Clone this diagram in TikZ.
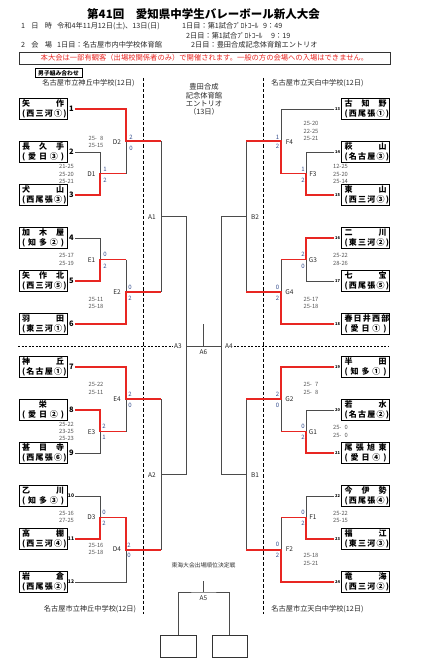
\documentclass[tikz,border=0pt]{standalone}
\usepackage{fontspec}
\setmainfont{Noto Sans CJK JP}
\usetikzlibrary{shadows}
\definecolor{winred}{RGB}{232,38,34}
\definecolor{linegray}{RGB}{75,75,75}
\definecolor{scoreblue}{RGB}{50,75,140}
\definecolor{setgray}{RGB}{85,85,85}
\newcommand{\teamtxt}[2]{\makebox[42pt][s]{#1}\\\makebox[42pt][s]{#2}}
\begin{document}
\begin{tikzpicture}[x=1pt,y=-1pt,
  team/.style={draw, line width=0.9pt, fill=white, minimum width=48pt, minimum height=21pt, inner sep=0pt, align=center,
    font=\fontsize{8}{9.5}\selectfont\bfseries,
    drop shadow={shadow xshift=0.9pt, shadow yshift=-0.9pt, fill=black!45, opacity=1}},
  num/.style={font=\fontsize{7.5}{8}\selectfont\bfseries, inner sep=1pt},
  numsm/.style={font=\fontsize{5}{6}\selectfont\bfseries, inner sep=1pt},
  numr/.style={font=\fontsize{4}{5}\selectfont\bfseries, inner sep=0.8pt},
  sets/.style={font=\fontsize{5.8}{7.4}\selectfont, text=setgray, align=center, inner sep=0pt},
  mlab/.style={font=\fontsize{6.5}{7}\selectfont, text=black!85, inner sep=1pt},
  pts/.style={font=\fontsize{6}{7}\selectfont, text=scoreblue, inner sep=0pt},
  win/.style={draw=winred, line width=1.7pt},
  lose/.style={draw=linegray, line width=0.75pt},
  sepline/.style={draw=black, line width=1pt, dash pattern=on 3.5pt off 2pt},
  dotline/.style={draw=black, line width=0.9pt, dash pattern=on 2pt off 1.5pt},
  hdr/.style={font=\fontsize{7.2}{8}\selectfont, text=black!85, inner sep=0pt}]
\useasboundingbox (0,0) rectangle (420,666);

% heading
\node[font=\fontsize{11.5}{13}\selectfont\bfseries] (title) at (203.5,14) {第41回　愛知県中学生バレーボール新人大会};
\node[hdr, anchor=west] (i1) at (21,26) {\makebox[31pt][s]{1 日 時}};
\node[hdr, anchor=west] (i2) at (57,26) {令和4年11月12日(土)、13日(日)};
\node[hdr, anchor=west] (i3) at (182,26) {1日目：第1試合ﾌﾟﾛﾄｺｰﾙ};
\node[hdr, anchor=west] (i4) at (263,26) {9：49};
\node[hdr, anchor=west] (i5) at (186,35.5) {2日目：第1試合ﾌﾟﾛﾄｺｰﾙ};
\node[hdr, anchor=west] (i6) at (271,35.5) {9：19};
\node[hdr, anchor=west] (i7) at (21,45) {\makebox[31pt][s]{2 会 場}};
\node[hdr, anchor=west] (i8) at (57,45) {1日目：名古屋市内中学校体育館};
\node[hdr, anchor=west] (i9) at (191,45) {2日目：豊田合成記念体育館エントリオ};
\node[draw=black!80, line width=0.8pt, minimum width=371pt, minimum height=12pt, inner sep=0pt,
  text=winred, font=\fontsize{7.3}{8}\selectfont] (note) at (204.5,58) {本大会は一部有観客（出場校関係者のみ）で開催されます。一般の方の会場への入場はできません。};
\node[draw, line width=0.9pt, minimum width=47pt, minimum height=9pt, inner sep=0pt,
  font=\fontsize{5.8}{6}\selectfont\bfseries] (kumi) at (58.5,73) {男子組み合わせ};

\node[hdr] (hL1) at (88.5,83) {名古屋市立神丘中学校(12日)};
\node[hdr] (hR1) at (317.5,83) {名古屋市立天白中学校(12日)};
\node[hdr] (hL2) at (90,609) {名古屋市立神丘中学校(12日)};
\node[hdr] (hR2) at (317.5,609) {名古屋市立天白中学校(12日)};
\node[hdr, align=center, font=\fontsize{7.3}{8.3}\selectfont] (venue) at (204,99.5) {豊田合成\\記念体育館\\エントリオ\\（13日）};

\coordinate (sL1) at (143.5,78);
\coordinate (sL2) at (143.5,614);
\coordinate (sR1) at (263.5,78);
\coordinate (sR2) at (263.5,614);
\draw[sepline] (sL1) -- (sL2);
\draw[sepline] (sR1) -- (sR2);

% teams, left
\node[team] (t1) at (43,109) {\teamtxt{矢 作}{( 西 三 河 ① )}};
\node[team] (t2) at (43,152) {\teamtxt{長 久 手}{( 愛 日 ③ )}};
\node[team] (t3) at (43,195) {\teamtxt{犬 山}{( 西 尾 張 ③ )}};
\node[team] (t4) at (43,238) {\teamtxt{加 木 屋}{( 知 多 ② )}};
\node[team] (t5) at (43,281) {\teamtxt{矢 作 北}{( 西 三 河 ⑤ )}};
\node[team] (t6) at (43,324) {\teamtxt{羽 田}{( 東 三 河 ① )}};
\node[team] (t7) at (43,367) {\teamtxt{神 丘}{( 名 古 屋 ① )}};
\node[team] (t8) at (43,410) {\teamtxt{\hfill 栄\hfill}{( 愛 日 ② )}};
\node[team] (t9) at (43,453) {\teamtxt{甚 目 寺}{( 西 尾 張 ⑥ )}};
\node[team] (t10) at (43,496) {\teamtxt{乙 川}{( 知 多 ③ )}};
\node[team] (t11) at (43,539) {\teamtxt{高 棚}{( 西 三 河 ④ )}};
\node[team] (t12) at (43,582) {\teamtxt{岩 倉}{( 西 尾 張 ② )}};
\node[num] (n1) at (71.5,109) {1};
\node[num] (n2) at (71.5,152) {2};
\node[num] (n3) at (71.5,195) {3};
\node[num] (n4) at (71.5,238) {4};
\node[num] (n5) at (71.5,281) {5};
\node[num] (n6) at (71.5,324) {6};
\node[num] (n7) at (71.5,367) {7};
\node[num] (n8) at (71.5,410) {8};
\node[num] (n9) at (71.5,453) {9};
\node[numsm] (n10) at (71,496) {10};
\node[numsm] (n11) at (71,539) {11};
\node[numsm] (n12) at (71,582) {12};

% teams, right
\node[team] (t13) at (365.5,109) {\teamtxt{古 知 野}{( 西 尾 張 ① )}};
\node[team] (t14) at (365.5,152) {\teamtxt{萩 山}{( 名 古 屋 ③ )}};
\node[team] (t15) at (365.5,195) {\teamtxt{東 山}{( 西 三 河 ③ )}};
\node[team] (t16) at (365.5,238) {\teamtxt{二 川}{( 東 三 河 ② )}};
\node[team] (t17) at (365.5,281) {\teamtxt{七 宝}{( 西 尾 張 ⑤ )}};
\node[team] (t18) at (365.5,324) {\teamtxt{春 日 井 西 部}{( 愛 日 ① )}};
\node[team] (t19) at (365.5,367) {\teamtxt{半 田}{( 知 多 ① )}};
\node[team] (t20) at (365.5,410) {\teamtxt{若 水}{( 名 古 屋 ② )}};
\node[team] (t21) at (365.5,453) {\teamtxt{尾 張 旭 東}{( 愛 日 ④ )}};
\node[team] (t22) at (365.5,496) {\teamtxt{今 伊 勢}{( 西 尾 張 ④ )}};
\node[team] (t23) at (365.5,539) {\teamtxt{福 江}{( 東 三 河 ③ )}};
\node[team] (t24) at (365.5,582) {\teamtxt{竜 海}{( 西 三 河 ② )}};
\node[numr] (n13) at (337.5,109) {13};
\node[numr] (n14) at (337.5,152) {14};
\node[numr] (n15) at (337.5,195) {15};
\node[numr] (n16) at (337.5,238) {16};
\node[numr] (n17) at (337.5,281) {17};
\node[numr] (n18) at (337.5,324) {18};
\node[numr] (n19) at (337.5,367) {19};
\node[numr] (n20) at (337.5,410) {20};
\node[numr] (n21) at (337.5,453) {21};
\node[numr] (n22) at (337.5,496) {22};
\node[numr] (n23) at (337.5,539) {23};
\node[numr] (n24) at (337.5,582) {24};

% match points
\coordinate (D1) at (100,173.5);
\coordinate (D2) at (126,141.25);
\coordinate (E1) at (100,259.5);
\coordinate (E2) at (126,291.75);
\coordinate (E3) at (100,431.5);
\coordinate (E4) at (126,399.25);
\coordinate (D3) at (100,517.5);
\coordinate (D4) at (126,549.75);
\coordinate (A1) at (161,216.5);
\coordinate (A2) at (161,474.5);
\coordinate (A3) at (186,346);
\coordinate (A4) at (221,346);
\coordinate (A6) at (203.5,346);
\coordinate (A6t) at (203.5,324);
\coordinate (F3) at (306,173.5);
\coordinate (F4) at (281,141.25);
\coordinate (G3) at (306,259.5);
\coordinate (G4) at (281,291.75);
\coordinate (G1) at (306,431.5);
\coordinate (G2) at (281,399.25);
\coordinate (F1) at (306,517.5);
\coordinate (F2) at (281,549.75);
\coordinate (B2) at (246,216.5);
\coordinate (B1) at (246,474.5);

% losing lines
\draw[lose] (n2.east) -| (D1);
\draw[lose] (D1 -| D2) -- (D2);
\draw[lose] (n4.east) -| (E1);
\draw[lose] (E1 -| E2) -- (E2);
\draw[lose] (n9.east) -| (E3);
\draw[lose] (E3 -| E4) -- (E4);
\draw[lose] (n10.east) -| (D3);
\draw[lose] (n12.east) -| (D4);
\draw[lose] (D2 -| A1) -- (E2 -| A1);
\draw[lose] (E4 -| A2) -- (D4 -| A2);
\draw[lose] (A1) -| (A3);
\draw[lose] (A2) -| (A3);
\draw[lose] (A3) -- (A4);
\draw[lose] (A6t) -- (A6);
\draw[lose] (n14.west) -| (F3);
\draw[lose] (n13.west) -| (F4);
\draw[lose] (n17.west) -| (G3);
\draw[lose] (G3 -| G4) -- (G4);
\draw[lose] (n20.west) -| (G1);
\draw[lose] (G1 -| G2) -- (G2);
\draw[lose] (n22.west) -| (F1);
\draw[lose] (F1 -| F2) -- (F2);
\draw[lose] (F4 -| B2) -- (G4 -| B2);
\draw[lose] (G2 -| B1) -- (F2 -| B1);
\draw[lose] (B2) -| (A4);
\draw[lose] (B1) -| (A4);

% winning lines
\draw[win] (n3.east) -| (D1) -- (D1 -| D2);
\draw[win] (n1.east) -| (D2) -- (D2 -| A1);
\draw[win] (n5.east) -| (E1) -- (E1 -| E2);
\draw[win] (n6.east) -| (E2) -- (E2 -| A1);
\draw[win] (n8.east) -| (E3) -- (E3 -| E4);
\draw[win] (n7.east) -| (E4) -- (E4 -| A2);
\draw[win] (n11.east) -| (D3) -- (D3 -| D4) -- (D4) -- (D4 -| A2);
\draw[win] (n15.west) -| (F3) -- (F3 -| F4) -- (F4) -- (F4 -| B2);
\draw[win] (n16.west) -| (G3) -- (G3 -| G4);
\draw[win] (n18.west) -| (G4) -- (G4 -| B2);
\draw[win] (n21.west) -| (G1) -- (G1 -| G2);
\draw[win] (n19.west) -| (G2) -- (G2 -| B1);
\draw[win] (n23.west) -| (F1) -- (F1 -| F2);
\draw[win] (n24.west) -| (F2) -- (F2 -| B1);

% scores, left
\node[sets] (sD1) at (66.5,174) {21-25\\25-20\\25-21};
\node[mlab] (lD1) at (91.5,174) {D1};
\node[pts] (pD1a) at (105,169) {1};
\node[pts] (pD1b) at (105,180.5) {2};
\node[sets] (sD2) at (96,142) {25-\phantom{0}8\\25-15};
\node[mlab] (lD2) at (117,142) {D2};
\node[pts] (pD2a) at (131,137) {2};
\node[pts] (pD2b) at (131,148) {0};
\node[sets] (sE1) at (66.5,259.5) {25-17\\25-19};
\node[mlab] (lE1) at (91.5,260) {E1};
\node[pts] (pE1a) at (105,254.5) {0};
\node[pts] (pE1b) at (105,266) {2};
\node[sets] (sE2) at (96,303) {25-11\\25-18};
\node[mlab] (lE2) at (117,292) {E2};
\node[pts] (pE2a) at (130,287) {0};
\node[pts] (pE2b) at (130,298) {2};
\node[sets] (sE4) at (96,388.5) {25-22\\25-11};
\node[mlab] (lE4) at (117,399) {E4};
\node[pts] (pE4a) at (130,394) {2};
\node[pts] (pE4b) at (130,405.5) {0};
\node[sets] (sE3) at (66.5,431.5) {25-22\\23-25\\25-23};
\node[mlab] (lE3) at (91.5,432) {E3};
\node[pts] (pE3a) at (104,426) {2};
\node[pts] (pE3b) at (104,437) {1};
\node[sets] (sD3) at (66.5,517) {25-16\\27-25};
\node[mlab] (lD3) at (91.5,517) {D3};
\node[pts] (pD3a) at (104,512) {0};
\node[pts] (pD3b) at (104,523) {2};
\node[sets] (sD4) at (96,549) {25-16\\25-18};
\node[mlab] (lD4) at (117,549) {D4};
\node[pts] (pD4a) at (129,545) {2};
\node[pts] (pD4b) at (129,555.5) {0};

% scores, right
\node[sets] (sF4) at (311,131) {25-20\\22-25\\25-21};
\node[mlab] (lF4) at (289.5,142.5) {F4};
\node[pts] (pF4a) at (277.5,137) {1};
\node[pts] (pF4b) at (277.5,146.5) {2};
\node[sets] (sF3) at (340.5,174) {12-25\\25-20\\25-14};
\node[mlab] (lF3) at (313,174) {F3};
\node[pts] (pF3a) at (303,169) {1};
\node[pts] (pF3b) at (303,180.5) {2};
\node[sets] (sG3) at (340.5,259.5) {25-22\\28-26};
\node[mlab] (lG3) at (313,260) {G3};
\node[pts] (pG3a) at (303,254.5) {2};
\node[pts] (pG3b) at (303,266) {0};
\node[sets] (sG4) at (311,303) {25-17\\25-18};
\node[mlab] (lG4) at (289.5,292) {G4};
\node[pts] (pG4a) at (277.5,287) {0};
\node[pts] (pG4b) at (277.5,298) {2};
\node[sets] (sG2) at (311,388.5) {25-\phantom{0}7\\25-\phantom{0}8};
\node[mlab] (lG2) at (289.5,399) {G2};
\node[pts] (pG2a) at (277.5,394) {2};
\node[pts] (pG2b) at (277.5,405.5) {0};
\node[sets] (sG1) at (340.5,431.5) {25-\phantom{0}0\\25-\phantom{0}0};
\node[mlab] (lG1) at (313,432) {G1};
\node[pts] (pG1a) at (303,426) {0};
\node[pts] (pG1b) at (303,437) {2};
\node[sets] (sF1) at (340.5,517) {25-22\\25-15};
\node[mlab] (lF1) at (313,517) {F1};
\node[pts] (pF1a) at (303,512) {0};
\node[pts] (pF1b) at (303,523) {2};
\node[sets] (sF2) at (311,559.5) {25-18\\25-21};
\node[mlab] (lF2) at (289.5,549) {F2};
\node[pts] (pF2a) at (277.5,544) {0};
\node[pts] (pF2b) at (277.5,555.5) {2};

% centre
\node[mlab] (lA1) at (152,217) {A1};
\node[mlab] (lA2) at (152,475) {A2};
\node[mlab] (lB2) at (255,217) {B2};
\node[mlab] (lB1) at (255,475) {B1};
\node[mlab] (lA3) at (178,346) {A3};
\node[mlab] (lA4) at (229,346) {A4};
\node[mlab] (lA6) at (203.5,352) {A6};
\coordinate (dA3) at (18,346);
\coordinate (dA4) at (388,346);
\draw[dotline] (dA3) -- (lA3.west);
\draw[dotline] (lA4.east) -- (dA4);

% placing match
\node[font=\fontsize{5.8}{6}\selectfont, text=black!80, inner sep=0pt] (tokai) at (203.5,565) {東海大会出場順位決定戦};
\coordinate (A5t) at (203.5,581);
\coordinate (A5) at (203.5,592);
\node[mlab] (lA5) at (203.5,598.5) {A5};
\node[draw=black!80, line width=0.8pt, minimum width=36pt, minimum height=22pt, inner sep=0pt] (p1) at (178,646) {};
\node[draw=black!80, line width=0.8pt, minimum width=35pt, minimum height=22pt, inner sep=0pt] (p2) at (229.5,646) {};
\draw[lose] (A5t) -- (A5);
\draw[lose] (p1.north) |- (A5) -| (p2.north);
\end{tikzpicture}
\end{document}
